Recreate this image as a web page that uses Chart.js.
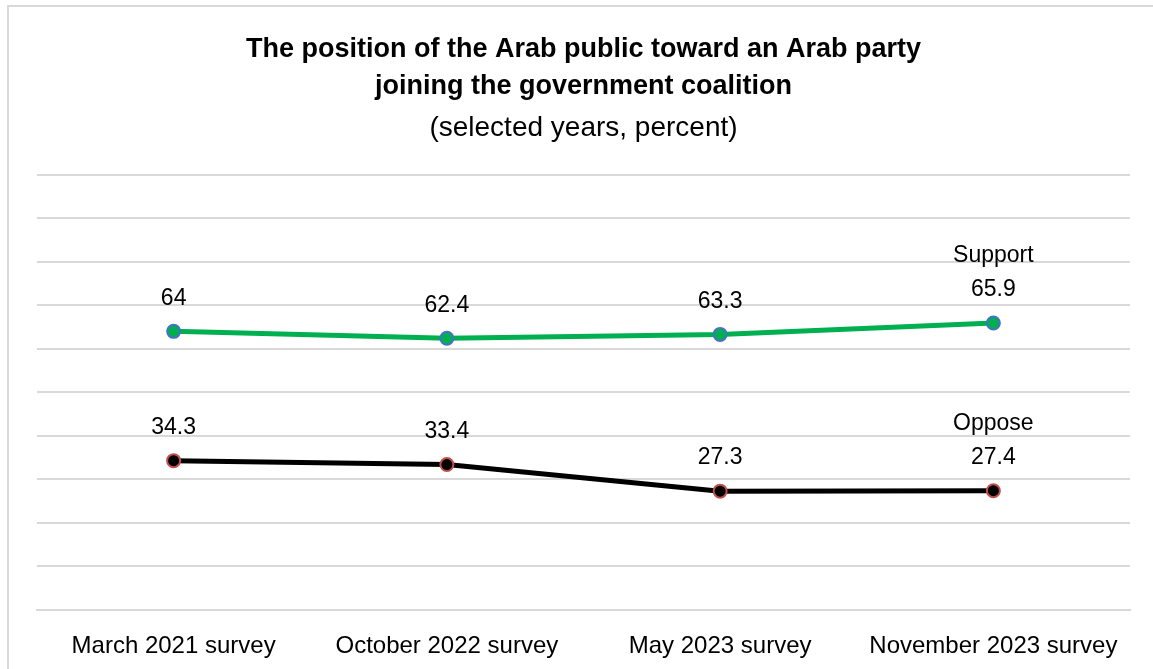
<!DOCTYPE html>
<html>
<head>
<meta charset="utf-8">
<script src="https://cdn.jsdelivr.net/npm/chart.js@4/dist/chart.umd.min.js"></script>
<style>
  html, body { margin: 0; padding: 0; background: #fff; overflow: hidden; }
  #frame { position: absolute; left: 7px; top: 5px; width: 1160px; height: 700px; border: 2px solid #d9d9d9; box-sizing: border-box; }
  #wrap { position: absolute; left: 0; top: 0; width: 1153px; height: 669px; }
</style>
</head>
<body>
<div id="frame"></div>
<div id="wrap"><canvas id="c" width="1153" height="669"></canvas></div>
<script>
const categories = ["March 2021 survey", "October 2022 survey", "May 2023 survey", "November 2023 survey"];
const supportValues = [64, 62.4, 63.3, 65.9];
const opposeValues = [34.3, 33.4, 27.3, 27.4];
const seriesNames = ["Support", "Oppose"];
const yTicks = [0, 10, 20, 30, 40, 50, 60, 70, 80, 90, 100];

const FONT = "'Liberation Sans', Arial, sans-serif";

const labelPlugin = {
  id: 'valueLabels',
  afterDatasetsDraw(chart) {
    const ctx = chart.ctx;
    ctx.save();
    ctx.fillStyle = '#000';
    ctx.font = '23px ' + FONT;
    ctx.textAlign = 'center';
    ctx.textBaseline = 'middle';
    chart.data.datasets.forEach((ds, di) => {
      const meta = chart.getDatasetMeta(di);
      meta.data.forEach((pt, i) => {
        const last = i === meta.data.length - 1;
        const v = ds.data[i];
        ctx.fillText(String(v), pt.x, pt.y - 33);
        if (last) ctx.fillText(ds.label, pt.x, pt.y - 67);
      });
    });
    ctx.restore();
  }
};

new Chart(document.getElementById('c'), {
  type: 'line',
  data: {
    labels: categories,
    datasets: [
      {
        label: seriesNames[0],
        data: supportValues,
        borderColor: '#00B050',
        backgroundColor: '#00B050',
        borderWidth: 5,
        pointRadius: 6.5,
        pointBorderWidth: 2,
        pointBackgroundColor: '#00B050',
        pointBorderColor: '#4472C4',
        tension: 0
      },
      {
        label: seriesNames[1],
        data: opposeValues,
        borderColor: '#000000',
        backgroundColor: '#000000',
        borderWidth: 5,
        pointRadius: 6.5,
        pointBorderWidth: 2,
        pointBackgroundColor: '#000000',
        pointBorderColor: '#C0504D',
        tension: 0
      }
    ]
  },
  options: {
    responsive: false,
    animation: false,
    layout: { padding: { left: 37, right: 23, top: 31, bottom: 0 } },
    plugins: {
      legend: { display: false },
      tooltip: { enabled: false },
      title: {
        display: true,
        text: ["The position of the Arab public toward an Arab party", "joining the government coalition"],
        color: '#000',
        font: { family: FONT, size: 27, weight: 'bold', lineHeight: 1.37 },
        padding: { top: 0, bottom: 0 }
      },
      subtitle: {
        display: true,
        text: "(selected years, percent)",
        color: '#000',
        font: { family: FONT, size: 28, weight: 'normal', lineHeight: 1.2 },
        padding: { top: 7, bottom: 29 }
      }
    },
    scales: {
      x: {
        offset: true,
        grid: { display: false, drawTicks: false },
        border: { display: true, color: '#d9d9d9', width: 2 },
        ticks: { color: '#000', font: { family: FONT, size: 24 }, padding: 22, maxRotation: 0 },
        afterFit(scale) { scale.height = 59; }
      },
      y: {
        min: 0, max: 100,
        afterBuildTicks(scale) { scale.ticks = yTicks.map(v => ({ value: v })); },
        grid: { color: '#d9d9d9', lineWidth: 2, drawTicks: false },
        border: { display: false },
        ticks: { display: false }
      }
    }
  },
  plugins: [labelPlugin]
});
</script>
</body>
</html>
